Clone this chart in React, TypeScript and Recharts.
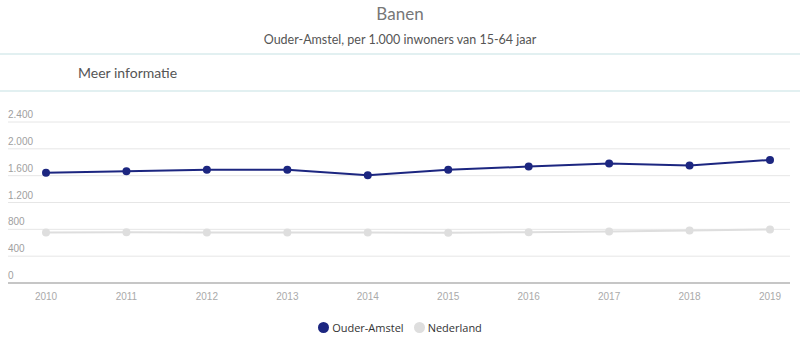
import React from "react";
import { LineChart, Line, XAxis, YAxis, CartesianGrid } from "recharts";

const years = ["2010", "2011", "2012", "2013", "2014", "2015", "2016", "2017", "2018", "2019"];
const ouderAmstel = [1645, 1665, 1690, 1690, 1605, 1690, 1735, 1780, 1750, 1835];
const nederland = [753, 755, 753, 752, 752, 750, 758, 768, 783, 798];
const yTicks = [0, 400, 800, 1200, 1600, 2000, 2400];

const data = years.map((year, i) => ({
  year,
  ouderAmstel: ouderAmstel[i],
  nederland: nederland[i],
}));

const NAVY = "#1c2680";
const GREY = "#dedede";

const formatTick = (v: number) => v.toLocaleString("nl-NL");

function YTick(props: any) {
  const { y, payload } = props;
  return (
    <text x={8} y={y - 4} fontSize={10} fill="#a0a0a0" fontFamily="'Liberation Sans', Arial, sans-serif" textAnchor="start">
      {formatTick(payload.value)}
    </text>
  );
}

function ChartLegend() {
  const items = [
    { label: "Ouder-Amstel", color: NAVY },
    { label: "Nederland", color: GREY },
  ];
  return (
    <div style={{ position: "absolute", top: 320, width: 800, display: "flex", justifyContent: "center", gap: 10, fontFamily: "'Open Sans', sans-serif", fontSize: 11, color: "#333" }}>
      {items.map((it) => (
        <div key={it.label} style={{ display: "flex", alignItems: "center" }}>
          <span style={{ width: 11, height: 11, borderRadius: "50%", background: it.color, marginRight: 3 }} />
          {it.label}
        </div>
      ))}
    </div>
  );
}

export default function App() {
  return (
    <div style={{ position: "absolute", left: 0, top: 0, width: 800, height: 360, background: "#fff", overflow: "hidden" }}>
      <div style={{ position: "absolute", top: 3, width: 800, textAlign: "center", fontFamily: "Lato, sans-serif", fontSize: 17, color: "#777" }}>
        Banen
      </div>
      <div style={{ position: "absolute", top: 32, width: 800, textAlign: "center", fontFamily: "Lato, sans-serif", fontSize: 12.5, color: "#555" }}>
        Ouder-Amstel, per 1.000 inwoners van 15-64 jaar
      </div>
      <div style={{ position: "absolute", top: 53, left: 0, width: 800, height: 2, background: "#e2f0f1" }} />
      <div style={{ position: "absolute", top: 64, left: 78, fontFamily: "Lato, sans-serif", fontSize: 14, color: "#555" }}>
        Meer informatie
      </div>
      <div style={{ position: "absolute", top: 90, left: 0, width: 800, height: 2, background: "#e2f0f1" }} />
      <div style={{ position: "absolute", left: 0, top: 0 }}>
        <LineChart width={800} height={360} data={data} margin={{ top: 122, right: 10, bottom: 47, left: 7 }}>
          <CartesianGrid vertical={false} stroke="#e6e6e6" />
          <XAxis
            dataKey="year"
            padding={{ left: 38, right: 20 }}
            tickLine={false}
            tickSize={0}
            tickMargin={10}
            axisLine={{ stroke: "#999" }}
            tick={{ fontSize: 10, fill: "#aaa", fontFamily: "'Liberation Sans', Arial, sans-serif" }}
            height={30}
          />
          <YAxis
            width={1}
            domain={[0, 2400]}
            ticks={yTicks}
            axisLine={false}
            tickLine={false}
            tick={<YTick />}
          />
          <Line
            dataKey="nederland"
            name="Nederland"
            stroke={GREY}
            strokeWidth={2}
            dot={{ r: 4, fill: GREY, stroke: GREY, strokeWidth: 0 }}
            isAnimationActive={false}
          />
          <Line
            dataKey="ouderAmstel"
            name="Ouder-Amstel"
            stroke={NAVY}
            strokeWidth={2}
            dot={{ r: 4, fill: NAVY, stroke: NAVY, strokeWidth: 0 }}
            isAnimationActive={false}
          />
        </LineChart>
      </div>
      <ChartLegend />
    </div>
  );
}
